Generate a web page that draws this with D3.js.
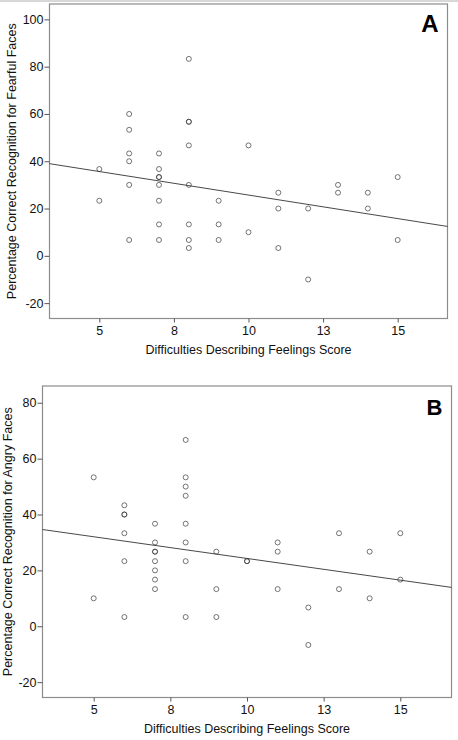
<!DOCTYPE html>
<html lang="en">
<head>
    <meta charset="utf-8">
    <script src="https://d3js.org/d3.v7.min.js"></script>
    <title>Difficulties Describing Feelings vs Recognition</title>
    <style>
        body { margin:0; background:#fff; }
        svg { display:block; font-family:"Liberation Sans", Arial, sans-serif; }
    </style>
</head>
<body>
    <svg id="chart"></svg>
    <script>
        // x ticks sit at 5, 7.5, 10, 12.5, 15 but SPSS prints them rounded
        const xTickValues = [5, 7.5, 10, 12.5, 15];
        const xTickLabels = ["5", "8", "10", "13", "15"];

        // panel A - fearful faces
        const fearX = [5,5, 6,6,6,6,6,6, 7,7,7,7,7,7,7,7, 8,8,8,8,8,8,8,8, 9,9,9, 10,10, 11,11,11, 12,12, 13,13, 14,14, 15,15];
        const fearY = [36.7,23.3, 60,53.3,43.3,40,30,6.7, 43.3,36.7,33.3,33.3,30,23.3,13.3,6.7,
                       83.3,56.7,56.7,46.7,30,13.3,6.7,3.3, 23.3,13.3,6.7, 46.7,10, 26.7,20,3.3,
                       20,-10, 30,26.7, 26.7,20, 33.3,6.7];
        const fearTicks = [-20, 0, 20, 40, 60, 80, 100];
        const fearFit = {intercept: 45.6, slope: -1.99};

        // panel B - angry faces
        const angryX = [5,5, 6,6,6,6,6,6, 7,7,7,7,7,7,7,7, 8,8,8,8,8,8,8,8, 9,9,9, 10,10, 11,11,11, 12,12, 13,13, 14,14, 15,15];
        const angryY = [53.3,10, 43.3,40,40,33.3,23.3,3.3, 36.7,30,26.7,26.7,23.3,20,16.7,13.3,
                        66.7,53.3,50,46.7,36.7,30,23.3,3.3, 26.7,13.3,3.3, 23.3,23.3, 30,26.7,13.3,
                        6.7,-6.7, 33.3,13.3, 26.7,10, 33.3,16.7];
        const angryTicks = [-20, 0, 20, 40, 60, 80];
        const angryFit = {intercept: 39.8, slope: -1.553};

        const W = 458, H = 740;
        const svg = d3.select("#chart").attr("width", W).attr("height", H);

        // thin grey band along the top of the image
        svg.append("rect").attr("x",0).attr("y",0).attr("width",W).attr("height",2).attr("fill","#d8d8d8");

        const panels = [
            {xs:fearX, ys:fearY, ticks:fearTicks, fit:fearFit, letter:"A",
             yTitle:"Percentage Correct Recognition for Fearful Faces",
             left:49.5, right:447.5, top:4, bottom:318.5, yDomain:[-26.5,106.5], yTitleX:15.5, xTitleY:354},
            {xs:angryX, ys:angryY, ticks:angryTicks, fit:angryFit, letter:"B",
             yTitle:"Percentage Correct Recognition for Angry Faces",
             left:42.5, right:451.5, top:386, bottom:697.5, yDomain:[-25.5,86], yTitleX:11.5, xTitleY:732.5}
        ];

        panels.forEach(p => {
            const g = svg.append("g");
            const x = d3.scaleLinear().domain([3.33, 16.67]).range([p.left, p.right]);
            const y = d3.scaleLinear().domain(p.yDomain).range([p.bottom, p.top]);

            // frame
            g.append("rect")
             .attr("x", p.left).attr("y", p.top)
             .attr("width", p.right - p.left).attr("height", p.bottom - p.top)
             .attr("fill", "#fff").attr("stroke", "#8c8c8c").attr("stroke-width", 1.2);

            // axes
            const xAxis = g.append("g").attr("transform", `translate(0,${p.bottom})`)
                .call(d3.axisBottom(x).tickValues(xTickValues).tickSize(4).tickPadding(4)
                      .tickFormat((d,i) => xTickLabels[i]));
            const yAxis = g.append("g").attr("transform", `translate(${p.left},0)`)
                .call(d3.axisLeft(y).tickValues(p.ticks).tickSize(5).tickPadding(1)
                      .tickFormat(d => String(d)));
            [xAxis, yAxis].forEach(a => {
                a.select(".domain").remove();
                a.selectAll("line").attr("stroke", "#555");
                a.selectAll("text").attr("fill", "#111").attr("font-size", "12.5px")
                 .attr("font-family", "Liberation Sans, Arial, sans-serif");
            });

            // fit line
            const fx = x.domain();
            g.append("line")
             .attr("x1", x(fx[0])).attr("y1", y(p.fit.intercept + p.fit.slope * fx[0]))
             .attr("x2", x(fx[1])).attr("y2", y(p.fit.intercept + p.fit.slope * fx[1]))
             .attr("stroke", "#333").attr("stroke-width", 0.9);

            // points
            g.selectAll("circle.pt")
             .data(p.xs.map((v,i) => [v, p.ys[i]]))
             .join("circle")
             .attr("class", "pt")
             .attr("cx", d => x(d[0])).attr("cy", d => y(d[1])).attr("r", 2.5)
             .attr("fill", "none").attr("stroke", "#333").attr("stroke-width", 0.9)
             .attr("stroke-opacity", 0.75);

            // panel letter
            g.append("text")
             .attr("x", p.right - 9).attr("y", p.top + (p.letter === "A" ? 28 : 29))
             .attr("text-anchor", "end").attr("font-weight", "bold")
             .attr("font-size", p.letter === "A" ? "24px" : "22px")
             .attr("fill", "#000").text(p.letter);

            // titles
            g.append("text")
             .attr("x", (p.left + p.right) / 2).attr("y", p.xTitleY)
             .attr("text-anchor", "middle").attr("font-size", "12.5px").attr("fill", "#111")
             .text("Difficulties Describing Feelings Score");
            g.append("text")
             .attr("transform", `translate(${p.yTitleX},${(p.top + p.bottom) / 2}) rotate(-90)`)
             .attr("text-anchor", "middle").attr("font-size", "12.5px").attr("fill", "#111")
             .text(p.yTitle);
        });
    </script>
</body>
</html>
